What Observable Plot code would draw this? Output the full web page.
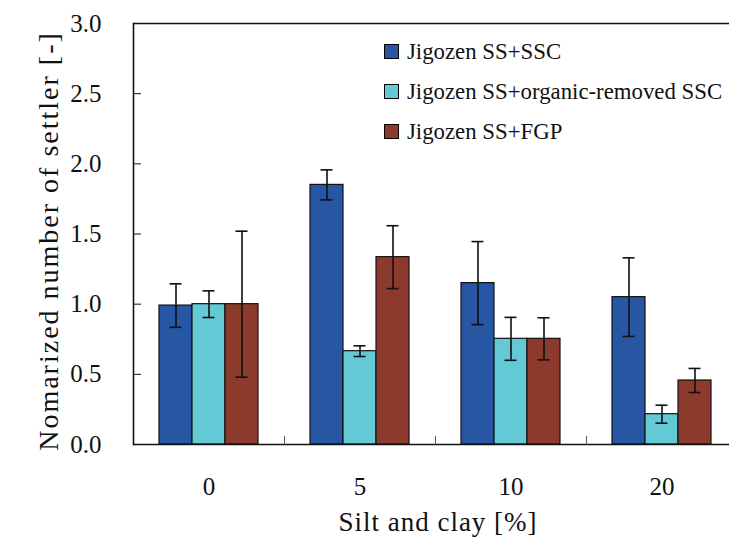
<!DOCTYPE html>
<html><head><meta charset="utf-8">
<script src="https://cdn.jsdelivr.net/npm/d3@7"></script>
<script src="https://cdn.jsdelivr.net/npm/@observablehq/plot@0.6"></script>
<style>
body{margin:0;background:#fff;overflow:hidden;}
#wrap{position:relative;width:729px;height:541px;overflow:hidden;font-family:"Liberation Serif","Times New Roman",serif;color:#111;}
#wrap svg{max-width:none !important;}
.ytitle{position:absolute;left:33px;top:241px;transform:rotate(-90deg);transform-origin:0 0;white-space:nowrap;font-size:28px;letter-spacing:2px;}
.ytitle span{display:inline-block;transform:translate(-50%,0);}
.xtitle{position:absolute;left:0;width:876px;top:507px;text-align:center;font-size:27px;letter-spacing:1px;white-space:nowrap;}
.legend{position:absolute;left:384px;top:40px;font-size:22.8px;}
.legend .row{position:absolute;left:0;height:24px;white-space:nowrap;line-height:24px;}
.legend .sw{position:absolute;left:0;top:4px;width:13px;height:13px;border:1px solid #000;}
.legend .lab{position:absolute;left:23px;top:0;}
</style></head><body><div id="wrap"></div>
<script>
const categories = ["0", "5", "10", "20"];
const series = ["Jigozen SS+SSC", "Jigozen SS+organic-removed SSC", "Jigozen SS+FGP"];
const colors = ["#2656a4", "#63c9d4", "#8b3a2c"];
const sscValues = [0.99, 1.85, 1.15, 1.05];
const sscErrors = [0.155, 0.107, 0.296, 0.28];
const organicRemovedValues = [1.00, 0.665, 0.753, 0.216];
const organicRemovedErrors = [0.095, 0.038, 0.153, 0.064];
const fgpValues = [1.00, 1.335, 0.753, 0.456];
const fgpErrors = [0.52, 0.224, 0.15, 0.086];
const yTicks = [0, 0.5, 1.0, 1.5, 2.0, 2.5, 3.0];
const yTitle = "Nomarized number of settler [-]";
const xTitle = "Silt and clay [%]";

const valueSets = [sscValues, organicRemovedValues, fgpValues];
const errorSets = [sscErrors, organicRemovedErrors, fgpErrors];
const data = [];
categories.forEach((c, i) => series.forEach((s, j) => data.push({cat: c, series: s, value: valueSets[j][i], err: errorSets[j][i]})));

const lineShape = {draw(ctx, l) { ctx.moveTo(0, 0); ctx.lineTo(0, -l); }};

const chart = Plot.plot({
  width: 737, height: 541,
  marginLeft: 133, marginRight: 0, marginTop: 23, marginBottom: 97,
  style: {fontFamily: "'Liberation Serif','Times New Roman',serif", background: "#fff", overflow: "visible"},
  fx: {domain: categories, padding: 0},
  x: {domain: series, paddingInner: 0, paddingOuter: 0.74, axis: null},
  y: {domain: [0, 3]},
  color: {domain: series, range: colors},
  marks: [
    Plot.barY(data, {fx: "cat", x: "series", y: "value", fill: "series", stroke: "#111", strokeWidth: 1.2}),
    Plot.ruleX(data, {fx: "cat", x: "series", y1: d => d.value - d.err, y2: d => d.value + d.err, stroke: "#111", strokeWidth: 1.6}),
    Plot.tickY(data, {fx: "cat", x: "series", y: d => d.value - d.err, stroke: "#111", strokeWidth: 1.6, insetLeft: 10.5, insetRight: 10.5}),
    Plot.tickY(data, {fx: "cat", x: "series", y: d => d.value + d.err, stroke: "#111", strokeWidth: 1.6, insetLeft: 10.5, insetRight: 10.5}),
    Plot.ruleY([0], {stroke: "#111", strokeWidth: 1.6}),
    Plot.ruleY([3], {stroke: "#111", strokeWidth: 1.6}),
    Plot.frame({anchor: "left", facetAnchor: "left", stroke: "#111", strokeWidth: 1.6}),
    Plot.vector(categories.slice(1), {fx: d => d, frameAnchor: "bottom-left", length: 8, rotate: 0, anchor: "start", shape: lineShape, stroke: "#555", strokeWidth: 1}),
    Plot.axisY(yTicks, {anchor: "left", tickSize: -8, tickPadding: 40, tickFormat: d3.format(".1f"), label: null, fontSize: 25, stroke: "#111", color: "#111"}),
    Plot.axisFx({anchor: "bottom", tickSize: 0, tickPadding: 33, label: null, fontSize: 25, color: "#111"})
  ]
});
const wrap = document.getElementById("wrap");
wrap.appendChild(chart);

const yt = document.createElement("div");
yt.className = "ytitle";
yt.innerHTML = "<span></span>";
yt.firstChild.textContent = yTitle;
wrap.appendChild(yt);

const xt = document.createElement("div");
xt.className = "xtitle";
xt.textContent = xTitle;
wrap.appendChild(xt);

const lg = document.createElement("div");
lg.className = "legend";
series.forEach((s, i) => {
  const r = document.createElement("div");
  r.className = "row";
  r.style.top = (i * 40) + "px";
  const sw = document.createElement("div");
  sw.className = "sw"; sw.style.background = colors[i];
  const lab = document.createElement("div");
  lab.className = "lab"; lab.textContent = s;
  r.appendChild(sw); r.appendChild(lab);
  lg.appendChild(r);
});
wrap.appendChild(lg);
</script></body></html>
